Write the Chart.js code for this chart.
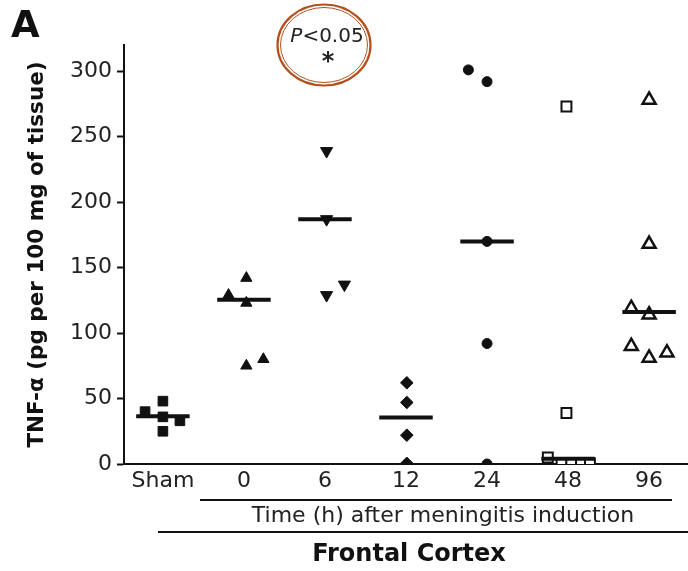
<!DOCTYPE html>
<html><head><meta charset="utf-8">
<script src="https://cdn.jsdelivr.net/npm/chart.js@4/dist/chart.umd.min.js"></script>
<style>html,body{margin:0;padding:0;background:#fff}canvas{display:block}</style>
</head><body>
<canvas id="c" width="688" height="571"></canvas>
<script>
const categories = ['Sham', '0', '6', '12', '24', '48', '96'];
const yTicks = [0, 50, 100, 150, 200, 250, 300];

const shamValues = [48, 40, 36, 33, 25];
const shamJitter = [0, -0.22, 0, 0.21, 0];
const h0Values = [142, 129, 123, 75, 80];
const h0Jitter = [0.03, -0.19, 0.03, 0.03, 0.24];
const h6Values = [239, 187, 137, 129];
const h6Jitter = [0.02, 0.02, 0.24, 0.02];
const h12Values = [62, 47, 22, 0.5];
const h12Jitter = [0.01, 0.01, 0.01, 0.01];
const h24Values = [301, 292, 170, 92, 0];
const h24Jitter = [-0.23, 0, 0, 0, 0];
const h48Values = [273, 39, 5, 0.5, 0.5, 0.5, 0.5];
const h48Jitter = [-0.02, -0.02, -0.25, -0.08, 0.04, 0.16, 0.27];
const h96Values = [278, 168, 119, 114, 90, 81, 85];
const h96Jitter = [0, 0, -0.22, 0, -0.22, 0, 0.22];
const medians = [36.5, 125.5, 187, 35.5, 170, 4, 116];

const groups = [shamValues, h0Values, h6Values, h12Values, h24Values, h48Values, h96Values];
const jitters = [shamJitter, h0Jitter, h6Jitter, h12Jitter, h24Jitter, h48Jitter, h96Jitter];

const INK = '#111';
const markerStyles = [
  {style: 'rect', r: 6.8, fill: INK, bw: 1, rot: 0},
  {style: 'triangle', r: 6.5, fill: INK, bw: 1, rot: 0},
  {style: 'triangle', r: 7, fill: INK, bw: 1, rot: 180},
  {style: 'rectRot', r: 6.3, fill: INK, bw: 1, rot: 0},
  {style: 'circle', r: 5, fill: INK, bw: 1, rot: 0},
  {style: 'rect', r: 7, fill: '#fff', bw: 2, rot: 0},
  {style: 'triangle', r: 7.5, fill: '#fff', bw: 2.5, rot: 0}
];
const clipArea = {left: 30, top: 30, right: 30, bottom: 0};

const pointSets = groups.map((vals, g) => ({
  type: 'scatter',
  data: vals.map((v, k) => ({x: g + jitters[g][k], y: v})),
  pointStyle: markerStyles[g].style,
  pointRadius: markerStyles[g].r,
  pointRotation: markerStyles[g].rot,
  backgroundColor: markerStyles[g].fill,
  borderColor: INK,
  borderWidth: markerStyles[g].bw,
  showLine: false,
  clip: clipArea,
  order: 2
}));
const medianSets = medians.map((m, g) => ({
  type: 'line',
  data: [{x: g - 0.33, y: m}, {x: g + 0.33, y: m}],
  borderColor: INK,
  borderWidth: 4,
  borderCapStyle: 'butt',
  pointRadius: 0,
  showLine: true,
  fill: false,
  clip: clipArea,
  order: 1
}));

const extras = {
  id: 'extras',
  afterDraw(chart) {
    const ctx = chart.ctx;
    ctx.save();
    ctx.fillStyle = INK;
    ctx.strokeStyle = INK;
    // panel letter
    ctx.font = 'bold 37px "DejaVu Sans"';
    ctx.textAlign = 'left';
    ctx.textBaseline = 'alphabetic';
    ctx.fillText('A', 11, 37);
    // significance annotation
    ctx.strokeStyle = '#b4501e';
    ctx.lineWidth = 2.2;
    ctx.beginPath(); ctx.ellipse(324, 45, 46.5, 40.5, 0, 0, Math.PI * 2); ctx.stroke();
    ctx.lineWidth = 1;
    ctx.beginPath(); ctx.ellipse(324, 45, 43.5, 37.5, 0, 0, Math.PI * 2); ctx.stroke();
    ctx.fillStyle = '#222';
    ctx.font = 'italic 20px "DejaVu Sans"';
    const wP = ctx.measureText('P').width;
    ctx.font = '20px "DejaVu Sans"';
    const wRest = ctx.measureText('<0.05').width;
    const x0 = 327 - (wP + wRest) / 2;
    ctx.textBaseline = 'middle';
    ctx.font = 'italic 20px "DejaVu Sans"';
    ctx.fillText('P', x0, 37);
    ctx.font = '20px "DejaVu Sans"';
    ctx.fillText('<0.05', x0 + wP, 37);
    ctx.font = 'bold 24px "DejaVu Sans"';
    ctx.textAlign = 'center';
    ctx.textBaseline = 'alphabetic';
    ctx.fillText('*', 328, 69);
    // x-axis grouping lines and titles
    ctx.strokeStyle = INK;
    ctx.lineWidth = 1.8;
    ctx.beginPath(); ctx.moveTo(200, 500); ctx.lineTo(672, 500); ctx.stroke();
    ctx.beginPath(); ctx.moveTo(158, 532); ctx.lineTo(688, 532); ctx.stroke();
    ctx.fillStyle = '#222';
    ctx.textBaseline = 'middle';
    ctx.font = '22px "DejaVu Sans"';
    ctx.fillText('Time (h) after meningitis induction', 443, 516);
    ctx.fillStyle = INK;
    ctx.font = 'bold 24px "DejaVu Sans"';
    ctx.fillText('Frontal Cortex', 409, 555);
    ctx.restore();
  }
};

new Chart(document.getElementById('c'), {
  type: 'scatter',
  data: {datasets: [...medianSets, ...pointSets]},
  options: {
    responsive: false,
    animation: false,
    devicePixelRatio: 1,
    layout: {autoPadding: false, padding: {top: 45, right: 0, left: 0, bottom: 0}},
    plugins: {legend: {display: false}, tooltip: {enabled: false}},
    scales: {
      x: {
        type: 'linear',
        min: -0.48,
        max: 6.48,
        afterBuildTicks: s => { s.ticks = categories.map((c, i) => ({value: i})); },
        afterFit: s => { s.height = 107; s.paddingLeft = 0; s.paddingRight = 0; },
        ticks: {
          callback: v => categories[Math.round(v)],
          font: {family: 'DejaVu Sans', size: 22},
          color: '#222',
          padding: 4,
          autoSkip: false,
          maxRotation: 0
        },
        grid: {display: true, drawOnChartArea: false, drawTicks: false},
        border: {display: true, color: INK, width: 2}
      },
      y: {
        min: 0,
        max: 320,
        afterBuildTicks: s => { s.ticks = yTicks.map(v => ({value: v})); },
        afterFit: s => { s.width = 124; },
        ticks: {
          font: {family: 'DejaVu Sans', size: 22},
          color: '#222',
          padding: 5
        },
        grid: {display: true, drawOnChartArea: false, drawTicks: true, tickLength: 7, tickWidth: 2, tickColor: INK},
        border: {display: true, color: INK, width: 2},
        title: {
          display: true,
          text: 'TNF-α (pg per 100 mg of tissue)',
          font: {family: 'DejaVu Sans', weight: 'bold', size: 21.5},
          color: INK,
          padding: {top: 25, bottom: 0}
        }
      }
    }
  },
  plugins: [extras]
});
</script>
</body></html>
